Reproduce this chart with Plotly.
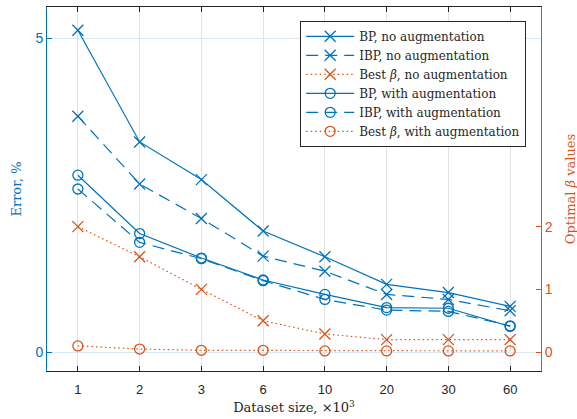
import plotly.graph_objects as go

sizes = ["1", "2", "3", "6", "10", "20", "30", "60"]

bp_no_aug = [5.13, 3.35, 2.75, 1.93, 1.52, 1.08, 0.95, 0.73]
ibp_no_aug = [3.76, 2.68, 2.13, 1.53, 1.29, 0.92, 0.84, 0.66]
beta_no_aug = [2.0, 1.52, 1.0, 0.5, 0.29, 0.2, 0.2, 0.2]

bp_aug = [2.82, 1.89, 1.50, 1.15, 0.92, 0.71, 0.70, 0.41]
ibp_aug = [2.60, 1.75, 1.49, 1.14, 0.84, 0.67, 0.65, 0.42]
beta_aug = [0.1, 0.05, 0.03, 0.03, 0.02, 0.02, 0.02, 0.02]

names = ["BP, no augmentation", "IBP, no augmentation", "Best <i>β</i>, no augmentation",
         "BP, with augmentation", "IBP, with augmentation", "Best <i>β</i>, with augmentation"]

BLUE = "#0072BD"
ORANGE = "#D95319"
DARK = "#262626"
SERIF = "DejaVu Serif"

fig = go.Figure()

series = [
    (bp_no_aug, names[0], BLUE, "solid", "x-thin-open", 11, "y"),
    (ibp_no_aug, names[1], BLUE, "12px,7px", "x-thin-open", 11, "y"),
    (beta_no_aug, names[2], ORANGE, "1.5px,3px", "x-thin-open", 11, "y2"),
    (bp_aug, names[3], BLUE, "solid", "circle-open", 10, "y"),
    (ibp_aug, names[4], BLUE, "12px,7px", "circle-open", 10, "y"),
    (beta_aug, names[5], ORANGE, "1.5px,3px", "circle-open", 10, "y2"),
]

for vals, name, col, dash, sym, ms, ax in series:
    fig.add_trace(go.Scatter(
        x=sizes, y=vals, name=name, yaxis=ax, mode="lines+markers",
        line=dict(color=col, width=1.2, dash=dash),
        marker=dict(symbol=sym, size=ms, color=col, line=dict(color=col, width=1.3)),
    ))

fig.update_layout(
    width=577, height=419,
    margin=dict(l=47, r=36, t=6, b=43),
    paper_bgcolor="white", plot_bgcolor="white",
    font=dict(family="Liberation Sans", size=13, color=DARK),
    showlegend=True,
    legend=dict(
        x=0.970, y=0.962, xanchor="right", yanchor="top",
        bgcolor="white", bordercolor=DARK, borderwidth=1,
        font=dict(family=SERIF, size=12, color=DARK),
        tracegroupgap=0, itemwidth=48,
    ),
    xaxis=dict(
        type="category", range=[-0.5, 7.5],
        showline=True, linecolor=DARK, linewidth=1, mirror="ticks",
        ticks="inside", ticklen=5, tickcolor=DARK,
        showgrid=True, gridcolor="#e3e3e3", gridwidth=1,
        zeroline=False, ticklabelstandoff=6,
        tickfont=dict(size=13, color=DARK),
        title=dict(text="Dataset size, ×10<sup>3</sup>", standoff=7,
                   font=dict(family=SERIF, size=13, color=DARK)),
    ),
    yaxis=dict(
        range=[-0.30, 5.50], tickvals=[0, 5],
        showline=True, linecolor=BLUE, linewidth=1,
        ticks="inside", ticklen=5, tickcolor=BLUE,
        showgrid=True, gridcolor="#dae8f4", gridwidth=1,
        zeroline=False,
        tickfont=dict(size=14, color=BLUE),
        title=dict(text="Error, %", standoff=10,
                   font=dict(family=SERIF, size=13, color=BLUE)),
    ),
    yaxis2=dict(
        range=[-0.30, 5.50], tickvals=[0, 1, 2],
        overlaying="y", side="right",
        showline=True, linecolor=ORANGE, linewidth=1,
        ticks="inside", ticklen=5, tickcolor=ORANGE,
        showgrid=False, zeroline=False,
        tickfont=dict(size=14, color=ORANGE),
    ),
    annotations=[dict(
        text="Optimal <i>β</i> values", xref="paper", yref="paper",
        x=1.059, y=0.5, xanchor="center", yanchor="middle", textangle=-90,
        showarrow=False, font=dict(family=SERIF, size=13, color=ORANGE),
    )],
)

fig.write_html("out.html", config={"displayModeBar": False},
               post_script="document.body.style.margin='0';")
